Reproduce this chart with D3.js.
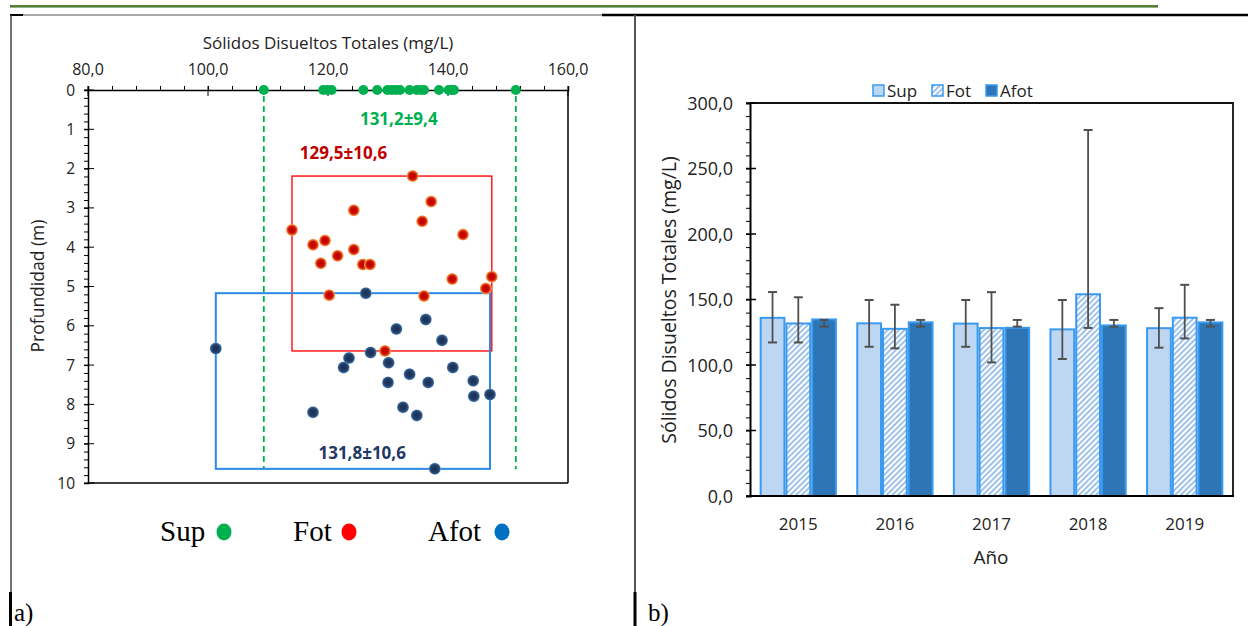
<!DOCTYPE html>
<html>
<head>
<meta charset="utf-8">
<script src="https://cdn.jsdelivr.net/npm/d3@7"></script>
<style>
    body { margin: 0; background: #fff; }
    svg { display: block; }
    text { font-family: "Open Sans", "Noto Sans", sans-serif; }
</style>
</head>
<body>
<svg id="painter" width="1248" height="626"></svg>
<script>
// ---- panel a) scatter: TDS (mg/L) vs depth (m)
const supTDS = [109.3, 119.2, 119.9, 120.6, 125.9, 128.2, 129.9, 130.6, 131.3, 132.0,
    133.6, 134.8, 135.5, 136.0, 138.5, 140.1, 140.7, 141.0, 151.3];
const fotTDS = [134.1, 137.2, 124.3, 135.7, 114.0, 142.5, 119.5, 117.5, 124.3, 121.6,
    118.8, 125.8, 127.0, 140.7, 147.3, 146.3, 120.2, 136.0, 129.5];
const fotDepth = [2.19, 2.84, 3.06, 3.34, 3.56, 3.68, 3.83, 3.94, 4.06, 4.22,
    4.41, 4.44, 4.44, 4.81, 4.75, 5.05, 5.22, 5.24, 6.64];
const afotTDS = [126.3, 136.3, 131.4, 139.0, 101.3, 127.1, 123.5, 130.1, 122.6, 140.8,
    133.6, 130.0, 136.7, 144.2, 144.3, 147.0, 117.5, 132.5, 134.8, 137.8];
const afotDepth = [5.17, 5.84, 6.08, 6.37, 6.58, 6.68, 6.82, 6.94, 7.06, 7.06,
    7.23, 7.44, 7.44, 7.40, 7.79, 7.75, 8.20, 8.07, 8.28, 9.64];
const statLabels = ["131,2±9,4", "129,5±10,6", "131,8±10,6"];
const xTicksA = [80, 100, 120, 140, 160];
const yTicksA = [0, 1, 2, 3, 4, 5, 6, 7, 8, 9, 10];

// ---- panel b) bars per year
const years = ["2015", "2016", "2017", "2018", "2019"];
const seriesNames = ["Sup", "Fot", "Afot"];
const supVals = [136.0, 131.8, 131.6, 127.2, 128.1];
const fotVals = [131.7, 127.6, 128.2, 154.0, 136.1];
const afotVals = [134.8, 132.6, 128.4, 130.2, 132.5];
const supLow = [117.2, 113.9, 113.9, 104.6, 113.2];
const supHigh = [155.7, 149.6, 149.6, 149.6, 143.4];
const fotLow = [117.2, 112.7, 102.0, 128.3, 120.3];
const fotHigh = [151.7, 146.0, 155.6, 279.4, 161.2];
const afotLow = [129.3, 129.3, 129.3, 129.3, 129.3];
const afotHigh = [134.4, 134.4, 134.4, 134.4, 134.4];
const yTicksB = [0, 50, 100, 150, 200, 250, 300];

const es = d3.formatLocale({ decimal: ",", thousands: ".", grouping: [3], currency: ["", ""] });
const f1 = es.format(".1f");

const svg = d3.select("#painter");

// ---------- page decoration (document table)
svg.append("rect").attr("x", 10).attr("y", 5).attr("width", 1148).attr("height", 2.6).attr("fill", "#538135");
svg.append("line").attr("x1", 10).attr("x2", 602).attr("y1", 15).attr("y2", 15)
    .attr("stroke", "#555").attr("stroke-width", 1);
svg.append("line").attr("x1", 10).attr("x2", 23).attr("y1", 15).attr("y2", 15)
    .attr("stroke", "#000").attr("stroke-width", 2);
svg.append("line").attr("x1", 602).attr("x2", 1248).attr("y1", 15).attr("y2", 15)
    .attr("stroke", "#000").attr("stroke-width", 2.5);
svg.append("line").attr("x1", 11).attr("x2", 11).attr("y1", 15).attr("y2", 626)
    .attr("stroke", "#444").attr("stroke-width", 1.5);
svg.append("line").attr("x1", 635).attr("x2", 635).attr("y1", 15).attr("y2", 626)
    .attr("stroke", "#555").attr("stroke-width", 2);
svg.append("line").attr("x1", 10.5).attr("x2", 10.5).attr("y1", 592).attr("y2", 626)
    .attr("stroke", "#000").attr("stroke-width", 3);
svg.append("line").attr("x1", 635).attr("x2", 635).attr("y1", 592).attr("y2", 626)
    .attr("stroke", "#000").attr("stroke-width", 3);
svg.append("text").attr("x", 14).attr("y", 621)
    .style("font-family", "'Liberation Serif', serif").attr("font-size", 25).text("a)");
svg.append("text").attr("x", 648).attr("y", 621)
    .style("font-family", "'Liberation Serif', serif").attr("font-size", 25).text("b)");

// ---------- defs
const defs = svg.append("defs");
const gRed = defs.append("radialGradient").attr("id", "gRed");
gRed.append("stop").attr("offset", "0%").attr("stop-color", "#c00000");
gRed.append("stop").attr("offset", "55%").attr("stop-color", "#c80a00");
gRed.append("stop").attr("offset", "80%").attr("stop-color", "#e9601e");
gRed.append("stop").attr("offset", "100%").attr("stop-color", "#f7b97a");
const gBlue = defs.append("radialGradient").attr("id", "gBlue");
gBlue.append("stop").attr("offset", "0%").attr("stop-color", "#1c2f4f");
gBlue.append("stop").attr("offset", "60%").attr("stop-color", "#213d66");
gBlue.append("stop").attr("offset", "85%").attr("stop-color", "#33608f");
gBlue.append("stop").attr("offset", "100%").attr("stop-color", "#7fa3cf");
const hatch = defs.append("pattern").attr("id", "hatch").attr("patternUnits", "userSpaceOnUse")
    .attr("width", 4).attr("height", 4).attr("patternTransform", "rotate(45)");
hatch.append("rect").attr("width", 4).attr("height", 4).attr("fill", "#fff");
hatch.append("line").attr("x1", 1).attr("x2", 1).attr("y1", 0).attr("y2", 4)
    .attr("stroke", "#86b3e8").attr("stroke-width", 1.6);

// ================= panel a
const xA = d3.scaleLinear().domain([80, 160]).range([88, 568]);
const yA = d3.scaleLinear().domain([0, 10]).range([90, 483]);
const pa = svg.append("g");

// frame
pa.append("line").attr("x1", 568).attr("x2", 568).attr("y1", 90).attr("y2", 483)
    .attr("stroke", "#000").attr("stroke-width", 1.5);
pa.append("line").attr("x1", 88).attr("x2", 568).attr("y1", 483).attr("y2", 483)
    .attr("stroke", "#000").attr("stroke-width", 1.5);

// top axis
const xAxisA = pa.append("g").attr("transform", "translate(0,90)")
    .call(d3.axisTop(xA).tickValues(d3.range(80, 161, 4)).tickSize(4).tickFormat(""));
xAxisA.select(".domain").attr("stroke-width", 1.5);
pa.selectAll(".xmaj").data(xTicksA).enter().append("line")
    .attr("x1", (d) => xA(d)).attr("x2", (d) => xA(d)).attr("y1", 86).attr("y2", 96)
    .attr("stroke", "#000").attr("stroke-width", 1);
pa.selectAll(".xlab").data(xTicksA).enter().append("text")
    .attr("x", (d) => xA(d)).attr("y", 75).attr("text-anchor", "middle")
    .attr("font-size", 16).attr("fill", "#222").text((d) => f1(d));

// left axis
const yAxisA = pa.append("g").attr("transform", "translate(88,0)")
    .call(d3.axisLeft(yA).tickValues(d3.range(0, 10.01, 0.2)).tickSize(4).tickFormat(""));
yAxisA.select(".domain").attr("stroke-width", 1.5);
pa.selectAll(".ymaj").data(yTicksA).enter().append("line")
    .attr("x1", 84).attr("x2", 94).attr("y1", (d) => yA(d)).attr("y2", (d) => yA(d))
    .attr("stroke", "#000").attr("stroke-width", 1);
pa.selectAll(".ylab").data(yTicksA).enter().append("text")
    .attr("x", 75).attr("y", (d) => yA(d) + 5.5).attr("text-anchor", "end")
    .attr("font-size", 15.5).attr("fill", "#222").text((d) => d);

pa.append("text").attr("x", 328).attr("y", 49).attr("text-anchor", "middle")
    .attr("font-size", 17).attr("fill", "#222").text("Sólidos Disueltos Totales (mg/L)");
pa.append("text").attr("transform", "translate(44,286) rotate(-90)").attr("text-anchor", "middle")
    .attr("font-size", 17.5).attr("fill", "#222").text("Profundidad (m)");

// boxes from extents
const fotPts = fotTDS.map((v, i) => ({ x: v, d: fotDepth[i] }));
const afotPts = afotTDS.map((v, i) => ({ x: v, d: afotDepth[i] }));
const supExt = d3.extent(supTDS);

pa.selectAll(".supline").data(supExt).enter().append("line")
    .attr("x1", (d) => xA(d)).attr("x2", (d) => xA(d)).attr("y1", 96).attr("y2", yA(9.65))
    .attr("stroke", "#00b050").attr("stroke-width", 1.8).attr("stroke-dasharray", "6,4");

const boxes = [
    { pts: fotPts, color: "#ff1a1a", w: 1.5 },
    { pts: afotPts, color: "#2a8ae6", w: 2 },
];
boxes.forEach((b) => {
    const ex = d3.extent(b.pts, (p) => p.x);
    const ey = d3.extent(b.pts, (p) => p.d);
    pa.append("rect").attr("x", xA(ex[0])).attr("y", yA(ey[0]))
        .attr("width", xA(ex[1]) - xA(ex[0])).attr("height", yA(ey[1]) - yA(ey[0]))
        .attr("fill", "none").attr("stroke", b.color).attr("stroke-width", b.w);
});

pa.selectAll(".fot").data(fotPts).enter().append("circle")
    .attr("cx", (d) => xA(d.x)).attr("cy", (d) => yA(d.d)).attr("r", 6)
    .attr("fill", "url(#gRed)");
pa.selectAll(".afot").data(afotPts).enter().append("circle")
    .attr("cx", (d) => xA(d.x)).attr("cy", (d) => yA(d.d)).attr("r", 6)
    .attr("fill", "url(#gBlue)");
pa.selectAll(".sup").data(supTDS).enter().append("circle")
    .attr("cx", (d) => xA(d)).attr("cy", yA(0)).attr("r", 5)
    .attr("fill", "#00b050");

// stat labels
const statPos = [
    { x: 131.8, d: 0.9, c: "#00b050" },
    { x: 122.6, d: 1.75, c: "#c00000" },
    { x: 125.7, d: 9.4, c: "#1f3864" },
];
pa.selectAll(".stat").data(statLabels).enter().append("text")
    .attr("x", (d, i) => xA(statPos[i].x)).attr("y", (d, i) => yA(statPos[i].d))
    .attr("text-anchor", "middle").attr("font-size", 17).attr("font-weight", "bold")
    .attr("fill", (d, i) => statPos[i].c).text((d) => d);

// serif legend
const legA = [
    { name: "Sup", x: 160, dot: 224, c: "#00b050" },
    { name: "Fot", x: 293, dot: 349, c: "#ff0000" },
    { name: "Afot", x: 428, dot: 502, c: "#0070c0" },
];
legA.forEach((l) => {
    pa.append("text").attr("x", l.x).attr("y", 541).style("font-family", "'Liberation Serif', serif")
        .attr("font-size", 29).attr("fill", "#000").text(l.name);
    pa.append("ellipse").attr("cx", l.dot).attr("cy", 532).attr("rx", 7.5).attr("ry", 8.5).attr("fill", l.c);
});

// ================= panel b
const xB = d3.scaleBand().domain(years).range([750, 1233]).paddingInner(0.2).paddingOuter(0.1);
const xS = d3.scaleBand().domain(seriesNames).range([0, xB.bandwidth()]);
const yB = d3.scaleLinear().domain([0, 300]).range([496, 103]);
const pb = svg.append("g");

const fills = { Sup: "#bdd7f3", Fot: "url(#hatch)", Afot: "#2e75b6" };
const barData = [];
years.forEach((yr, i) => {
    barData.push({ yr: yr, s: "Sup", v: supVals[i], lo: supLow[i], hi: supHigh[i] });
    barData.push({ yr: yr, s: "Fot", v: fotVals[i], lo: fotLow[i], hi: fotHigh[i] });
    barData.push({ yr: yr, s: "Afot", v: afotVals[i], lo: afotLow[i], hi: afotHigh[i] });
});

pb.selectAll(".bar").data(barData).enter().append("rect")
    .attr("x", (d) => xB(d.yr) + xS(d.s) + 1)
    .attr("y", (d) => yB(d.v))
    .attr("width", xS.bandwidth() - 2)
    .attr("height", (d) => yB(0) - yB(d.v))
    .attr("fill", (d) => fills[d.s])
    .attr("stroke", "#3a9af0").attr("stroke-width", 2);

// error bars
const ebar = pb.selectAll(".err").data(barData).enter().append("g")
    .attr("transform", (d) => "translate(" + (xB(d.yr) + xS(d.s) + xS.bandwidth() / 2) + ",0)");
ebar.append("line").attr("y1", (d) => yB(d.lo)).attr("y2", (d) => yB(d.hi))
    .attr("stroke", "#505050").attr("stroke-width", 1.8);
ebar.append("line").attr("x1", -4.5).attr("x2", 4.5).attr("y1", (d) => yB(d.lo)).attr("y2", (d) => yB(d.lo))
    .attr("stroke", "#505050").attr("stroke-width", 2);
ebar.append("line").attr("x1", -4.5).attr("x2", 4.5).attr("y1", (d) => yB(d.hi)).attr("y2", (d) => yB(d.hi))
    .attr("stroke", "#505050").attr("stroke-width", 2);

// frame
pb.append("path").attr("d", "M750,103H1233V496").attr("fill", "none")
    .attr("stroke", "#111").attr("stroke-width", 1.8);
pb.append("line").attr("x1", 749).attr("x2", 1234).attr("y1", 496).attr("y2", 496)
    .attr("stroke", "#000").attr("stroke-width", 2.2);

// y axis
const yAxisB = pb.append("g").attr("transform", "translate(750,0)")
    .call(d3.axisLeft(yB).tickValues(d3.range(0, 301, 10)).tickSize(4).tickFormat(""));
yAxisB.select(".domain").attr("stroke-width", 2);
pb.selectAll(".ybmaj").data(yTicksB).enter().append("line")
    .attr("x1", 746).attr("x2", 756).attr("y1", (d) => yB(d)).attr("y2", (d) => yB(d))
    .attr("stroke", "#000").attr("stroke-width", 1.5);
pb.selectAll(".yblab").data(yTicksB).enter().append("text")
    .attr("x", 733).attr("y", (d) => yB(d) + 6.5).attr("text-anchor", "end")
    .attr("font-size", 18).attr("fill", "#222").text((d) => f1(d));

pb.selectAll(".xblab").data(years).enter().append("text")
    .attr("x", (d) => xB(d) + xB.bandwidth() / 2).attr("y", 530).attr("text-anchor", "middle")
    .attr("font-size", 17).attr("fill", "#222").text((d) => d);

pb.append("text").attr("x", 991).attr("y", 564).attr("text-anchor", "middle")
    .attr("font-size", 19).attr("fill", "#222").text("Año");
pb.append("text").attr("transform", "translate(676,300) rotate(-90)").attr("text-anchor", "middle")
    .attr("font-size", 19.5).attr("fill", "#222").text("Sólidos Disueltos Totales (mg/L)");

// legend
const legB = [
    { s: "Sup", x: 873 },
    { s: "Fot", x: 932 },
    { s: "Afot", x: 986 },
];
legB.forEach((l) => {
    pb.append("rect").attr("x", l.x).attr("y", 85).attr("width", 11).attr("height", 11)
        .attr("fill", fills[l.s]).attr("stroke", "#3a9af0").attr("stroke-width", 1.5);
    pb.append("text").attr("x", l.x + 14).attr("y", 97).attr("font-size", 17)
        .attr("fill", "#222").text(l.s);
});
</script>
</body>
</html>
